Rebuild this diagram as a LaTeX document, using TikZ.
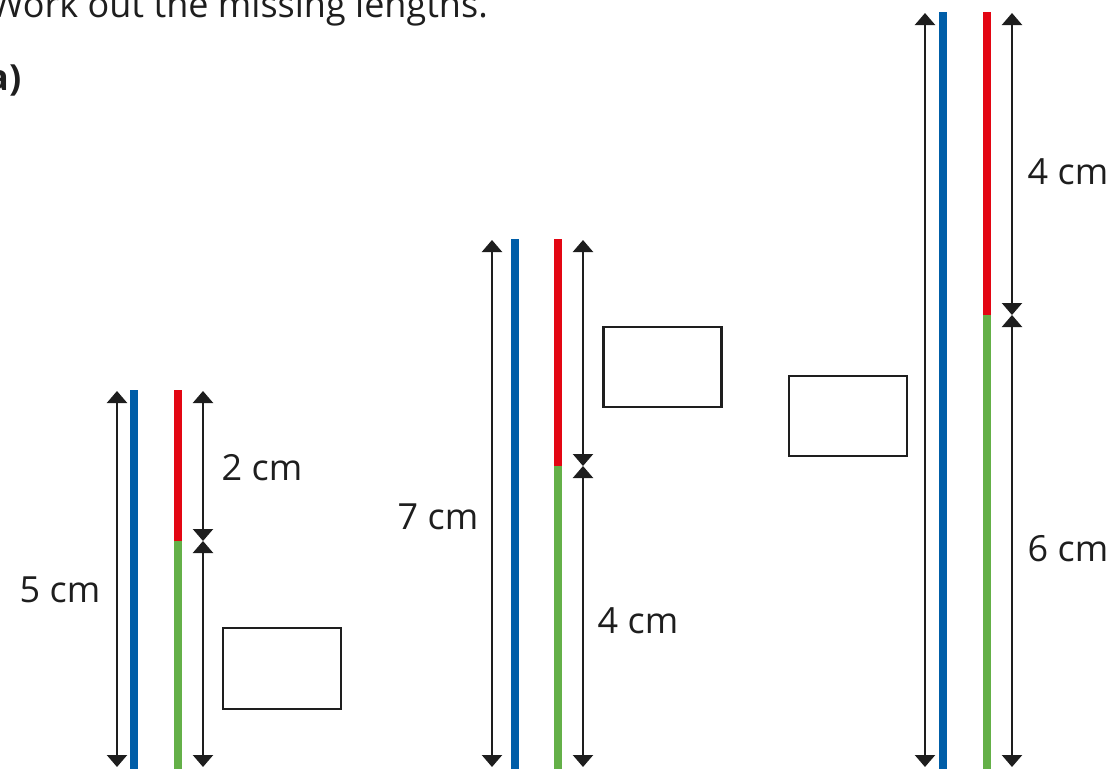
\documentclass[tikz,border=0pt]{standalone}
\usepackage{fontspec}
\setmainfont{Open Sans}
\usetikzlibrary{arrows.meta}
\definecolor{barblue}{RGB}{0,94,168}
\definecolor{barred}{RGB}{227,6,19}
\definecolor{bargreen}{RGB}{100,176,72}
\definecolor{ink}{RGB}{30,30,30}
\tikzset{
  bar/.style={line width=7.5pt},
  dim/.style={line width=2.2pt, draw=ink, {Triangle[width=20pt,length=12pt]}-{Triangle[width=20pt,length=12pt]}},
  ansbox/.style={draw=ink, line width=2.6pt},
  lab/.style={font=\fontsize{36}{42}\selectfont, text=ink, inner sep=0pt}
}
\begin{document}
\begin{tikzpicture}[x=1pt,y=-1pt]
\useasboundingbox (0,0) rectangle (1119,769);
% heading
\node[lab, anchor=base east] (title) at (488,17) {Work out the missing lengths.};
\node[lab, anchor=base east, font=\fontsize{36}{42}\selectfont\bfseries] (parta) at (22,90) {a)};

% ---------- group 1 ----------
\coordinate (b1t) at (134,390); \coordinate (b1b) at (134,769);
\coordinate (r1t) at (178,390); \coordinate (r1m) at (178,541); \coordinate (r1b) at (178,769);
\coordinate (l1t) at (117,391); \coordinate (l1b) at (117,767);
\coordinate (d1t) at (203,391); \coordinate (d1m) at (203,541); \coordinate (d1b) at (203,767);
\draw[bar, barblue] (b1t) -- (b1b);
\draw[bar, barred] (r1t) -- (r1m);
\draw[bar, bargreen] (r1m) -- (r1b);
\draw[dim] (l1t) -- (l1b);
\draw[dim] (d1t) -- (d1m);
\draw[dim] (d1m) -- (d1b);
\node[lab] (t1a) at (262,468) {2 cm};
\node[lab] (t1b) at (60,590) {5 cm};
\node[ansbox, minimum width=118pt, minimum height=81pt, inner sep=0pt] (box1) at (282,668.5) {};

% ---------- group 2 ----------
\coordinate (b2t) at (515,239); \coordinate (b2b) at (515,769);
\coordinate (r2t) at (558,239); \coordinate (r2m) at (558,466); \coordinate (r2b) at (558,769);
\coordinate (l2t) at (492,240); \coordinate (l2b) at (492,767);
\coordinate (d2t) at (583,240); \coordinate (d2m) at (583,466); \coordinate (d2b) at (583,767);
\draw[bar, barblue] (b2t) -- (b2b);
\draw[bar, barred] (r2t) -- (r2m);
\draw[bar, bargreen] (r2m) -- (r2b);
\draw[dim] (l2t) -- (l2b);
\draw[dim] (d2t) -- (d2m);
\draw[dim] (d2m) -- (d2b);
\node[lab] (t2a) at (438,517) {7 cm};
\node[lab] (t2b) at (638,621) {4 cm};
\node[ansbox, minimum width=118pt, minimum height=80pt, inner sep=0pt] (box2) at (662.5,367) {};

% ---------- group 3 ----------
\coordinate (b3t) at (943,12); \coordinate (b3b) at (943,769);
\coordinate (r3t) at (987,12); \coordinate (r3m) at (987,315); \coordinate (r3b) at (987,769);
\coordinate (l3t) at (925,13); \coordinate (l3b) at (925,767);
\coordinate (d3t) at (1012,13); \coordinate (d3m) at (1012,315); \coordinate (d3b) at (1012,767);
\draw[bar, barblue] (b3t) -- (b3b);
\draw[bar, barred] (r3t) -- (r3m);
\draw[bar, bargreen] (r3m) -- (r3b);
\draw[dim] (l3t) -- (l3b);
\draw[dim] (d3t) -- (d3m);
\draw[dim] (d3m) -- (d3b);
\node[lab] (t3a) at (1068,172) {4 cm};
\node[lab] (t3b) at (1068,549) {6 cm};
\node[ansbox, minimum width=118pt, minimum height=80pt, inner sep=0pt] (box3) at (848,416) {};
\end{tikzpicture}
\end{document}
